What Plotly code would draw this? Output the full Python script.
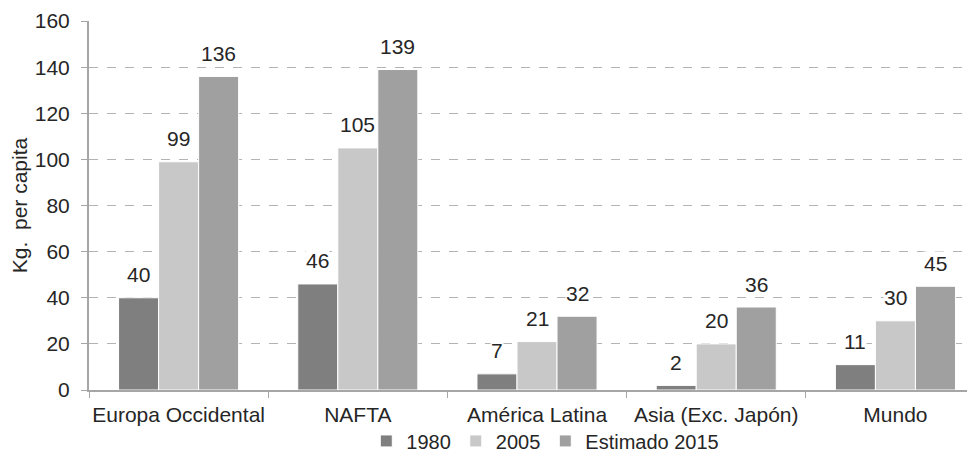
import plotly.graph_objects as go

categories = ["Europa Occidental", "NAFTA", "América Latina", "Asia (Exc. Japón)", "Mundo"]
series_names = ["1980", "2005", "Estimado 2015"]
v1980 = [40, 46, 7, 2, 11]
v2005 = [99, 105, 21, 20, 30]
v2015 = [136, 139, 32, 36, 45]
colors = ["#7f7f7f", "#c8c8c8", "#a0a0a0"]
y_ticks = [0, 20, 40, 60, 80, 100, 120, 140, 160]

FONT = "Liberation Sans, Arial, sans-serif"
TXT = "#262626"
FS = 21

fig = go.Figure()
all_vals = [v1980, v2005, v2015]
for name, vals, col in zip(series_names, all_vals, colors):
    fig.add_trace(go.Bar(
        x=categories, y=vals, name=name,
        marker=dict(color=col, line=dict(color="white", width=1)),
    ))

# data labels (white background like the original)
shifts = [-40, 0, 40]
for vals, xs in zip(all_vals, shifts):
    for c, v in zip(categories, vals):
        fig.add_annotation(
            x=c, y=v, xref="x", yref="y", text=str(v), showarrow=False,
            xshift=xs, yshift=23, yanchor="middle",
            font=dict(family=FONT, size=FS, color=TXT),
            bgcolor="white", borderpad=0,
        )

fig.update_layout(
    width=975, height=468,
    margin=dict(l=81, r=8, t=13, b=86, autoexpand=False),
    paper_bgcolor="white", plot_bgcolor="white",
    barmode="group", bargap=0.33, bargroupgap=0,
    font=dict(family=FONT, size=FS, color=TXT),
    showlegend=True,
    legend=dict(orientation="h", x=0.515, xanchor="center", y=-0.138, yanchor="middle",
                bgcolor="rgba(0,0,0,0)",
                font=dict(family=FONT, size=20, color=TXT),
                itemwidth=30, traceorder="normal"),
)
fig.update_xaxes(
    range=[-0.5, 4.444], tickangle=0, automargin=False,
    showline=True, linecolor="#a6a6a6", linewidth=2,
    ticks="outside", tickson="boundaries", ticklen=6, tickcolor="#a6a6a6", tickwidth=1,
    ticklabelstandoff=5,
    showgrid=False,
    tickfont=dict(family=FONT, size=FS, color=TXT),
)
fig.update_yaxes(
    range=[0, 160.05], tickvals=y_ticks, automargin=False,
    showline=True, linecolor="#a6a6a6", linewidth=2,
    ticks="outside", ticklen=6, tickcolor="#a6a6a6",
    ticklabelstandoff=7,
    showgrid=True, gridcolor="#b3b3b3", griddash="dash", gridwidth=1,
    zeroline=False,
    tickfont=dict(family=FONT, size=FS, color=TXT),
    title=dict(text="Kg.  per capita", font=dict(family=FONT, size=FS, color=TXT), standoff=4),
)

fig.write_html("out.html")
